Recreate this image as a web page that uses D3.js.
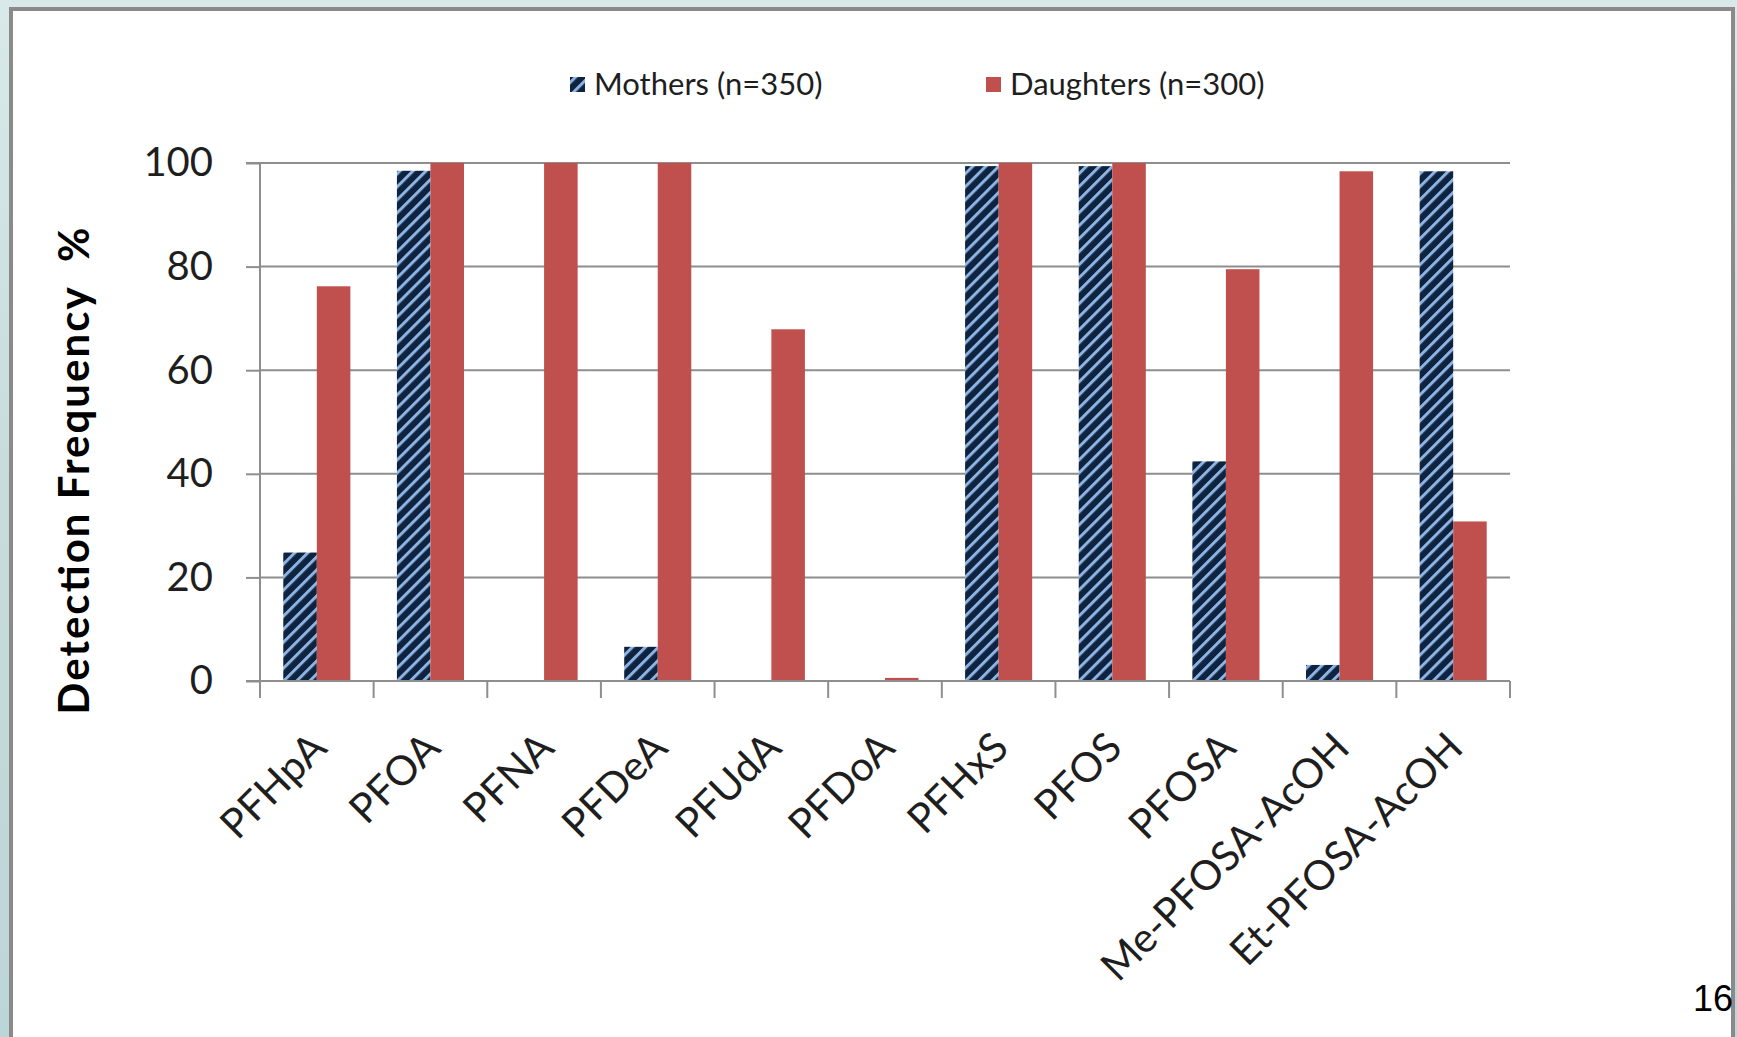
<!DOCTYPE html>
<html>
<head>
<meta charset="utf-8">
<script src="https://cdn.jsdelivr.net/npm/d3@7"></script>
<style>
  html, body { margin: 0; padding: 0; }
  body {
    width: 1737px; height: 1037px; overflow: hidden;
    background: linear-gradient(180deg, #d9e9ea 0%, #c7dcdd 45%, #bcd5d6 100%);
  }
  svg { display: block; }
</style>
</head>
<body>
<svg id="chart" width="1737" height="1037"></svg>
<script>
// Detection frequency (%) of PFAS compounds
const categories = ["PFHpA", "PFOA", "PFNA", "PFDeA", "PFUdA", "PFDoA",
                    "PFHxS", "PFOS", "PFOSA", "Me-PFOSA-AcOH", "Et-PFOSA-AcOH"];
const mothers   = [24.8, 98.5, 0, 6.6, 0, 0, 99.4, 99.4, 42.4, 3.1, 98.4];
const daughters = [76.2, 100, 100, 100, 67.9, 0.6, 100, 100, 79.5, 98.4, 30.8];
const seriesNames = ["Mothers (n=350)", "Daughters (n=300)"];
const yTicks = [0, 20, 40, 60, 80, 100];

const svg = d3.select("#chart");
const W = 1737, H = 1037;

// slide frame
svg.append("rect")
  .attr("x", 11).attr("y", 9)
  .attr("width", 1722).attr("height", H)
  .attr("fill", "#ffffff")
  .attr("stroke", "#8a8a8a").attr("stroke-width", 4);

// hatch for the Mothers series
const defs = svg.append("defs");
const P = 9.2;
const hatch = defs.append("pattern")
  .attr("id", "hatch")
  .attr("patternUnits", "userSpaceOnUse")
  .attr("width", P).attr("height", P)
  .attr("patternTransform", "rotate(45)");
hatch.append("rect").attr("width", P).attr("height", P).attr("fill", "#0e2340");
hatch.append("rect").attr("x", 0).attr("width", 3).attr("height", P).attr("fill", "#8fb4e2");

const plot = { left: 260, right: 1510, top: 163, bottom: 681 };

const x0 = d3.scaleBand().domain(categories).range([plot.left, plot.right]).padding(0);
const x1 = d3.scaleBand().domain(["m", "d"]).range([0, x0.bandwidth()])
  .paddingInner(0).paddingOuter(0.694);
const y = d3.scaleLinear().domain([0, 100]).range([plot.bottom, plot.top]);

const gridColor = "#8e8e8e";
const fontMain = "Lato, 'Open Sans', sans-serif";

// horizontal gridlines
svg.append("g")
  .selectAll("line")
  .data(yTicks.filter(d => d > 0))
  .join("line")
  .attr("x1", plot.left).attr("x2", plot.right)
  .attr("y1", d => y(d)).attr("y2", d => y(d))
  .attr("stroke", gridColor).attr("stroke-width", 2);

// bars
const rows = categories.map((c, i) => ({ c, m: mothers[i], d: daughters[i] }));
const groups = svg.append("g").selectAll("g")
  .data(rows).join("g")
  .attr("transform", d => `translate(${x0(d.c)},0)`);

groups.filter(d => d.m > 0).append("rect")
  .attr("x", x1("m")).attr("width", x1.bandwidth())
  .attr("y", d => y(d.m)).attr("height", d => y(0) - y(d.m))
  .attr("fill", "url(#hatch)");

groups.filter(d => d.d > 0).append("rect")
  .attr("x", x1("d")).attr("width", x1.bandwidth())
  .attr("y", d => y(d.d)).attr("height", d => y(0) - y(d.d))
  .attr("fill", "#c0504d");

// y axis
const yAxis = d3.axisLeft(y).tickValues(yTicks).tickSize(14).tickPadding(33);
const gy = svg.append("g").attr("transform", `translate(${plot.left},0)`).call(yAxis);
gy.select(".domain").attr("stroke", gridColor).attr("stroke-width", 2)
  .attr("d", `M-14,${plot.top}H0V${plot.bottom}H-14`);
gy.selectAll(".tick line").attr("stroke", gridColor).attr("stroke-width", 2);
gy.selectAll(".tick text")
  .attr("fill", "#1e1e1e")
  .style("font-family", fontMain).style("font-size", "40px");

// x axis
const xTickPositions = categories.map(c => x0(c)).concat([plot.right]);
const gx = svg.append("g");
gx.append("line")
  .attr("x1", plot.left).attr("x2", plot.right)
  .attr("y1", plot.bottom).attr("y2", plot.bottom)
  .attr("stroke", gridColor).attr("stroke-width", 2);
gx.selectAll("line.tk").data(xTickPositions).join("line")
  .attr("class", "tk")
  .attr("x1", d => d).attr("x2", d => d)
  .attr("y1", plot.bottom).attr("y2", plot.bottom + 17)
  .attr("stroke", gridColor).attr("stroke-width", 2);

gx.selectAll("text").data(categories).join("text")
  .attr("transform", c => `translate(${x0(c) + x0.bandwidth() / 2 + 12},${plot.bottom + 69}) rotate(-45)`)
  .attr("text-anchor", "end")
  .attr("fill", "#1e1e1e")
  .style("font-family", fontMain).style("font-size", "41px")
  .text(c => c);

// y axis title
svg.append("text")
  .attr("transform", `translate(89,471) rotate(-90)`)
  .attr("text-anchor", "middle")
  .attr("textLength", 487)
  .attr("lengthAdjust", "spacing")
  .attr("fill", "#000")
  .style("font-family", fontMain).style("font-weight", "bold").style("font-size", "42px")
  .style("white-space", "pre")
  .text("Detection Frequency  %");

// legend
const legend = svg.append("g");
const legendItems = [
  { name: seriesNames[0], fill: "url(#hatch)", x: 570 },
  { name: seriesNames[1], fill: "#c0504d", x: 986 }
];
legendItems.forEach(it => {
  legend.append("rect")
    .attr("x", it.x).attr("y", 77).attr("width", 15).attr("height", 15)
    .attr("fill", it.fill);
  legend.append("text")
    .attr("x", it.x + 24).attr("y", 84)
    .attr("dy", "0.35em")
    .attr("fill", "#1e1e1e")
    .style("font-family", fontMain).style("font-size", "31px")
    .text(it.name);
});

// page number
svg.append("text")
  .attr("x", 1733).attr("y", 1011)
  .attr("text-anchor", "end")
  .attr("fill", "#000")
  .style("font-family", "'Liberation Sans', Arial, sans-serif").style("font-size", "36px")
  .text("16");
</script>
</body>
</html>
